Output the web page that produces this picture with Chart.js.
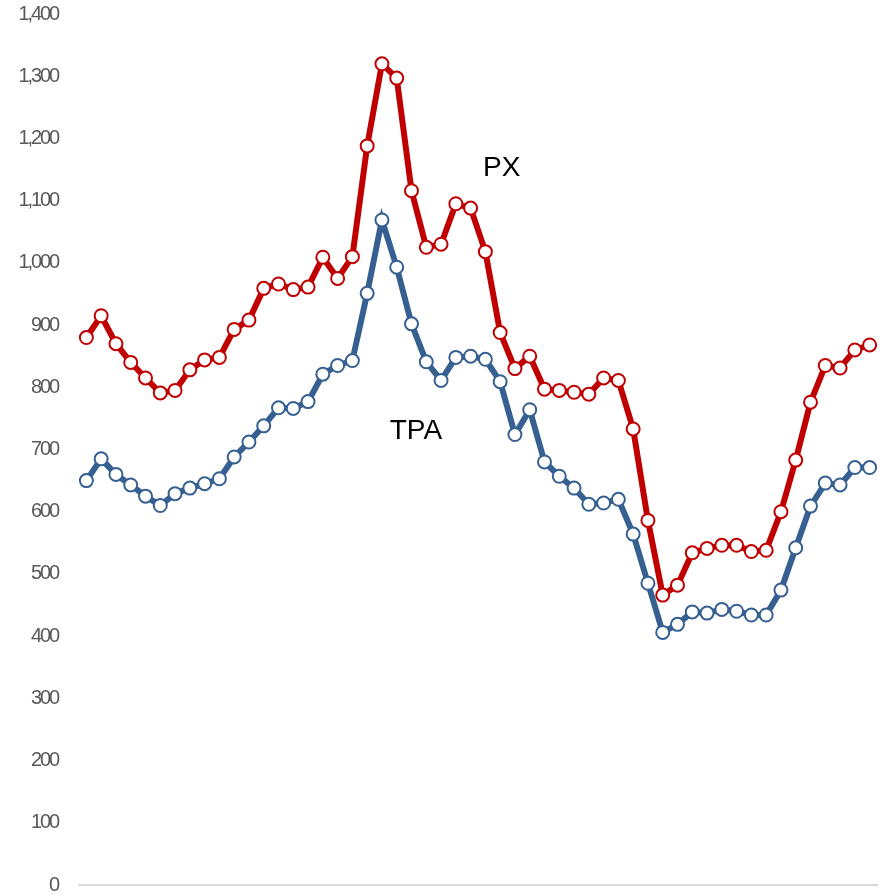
<!DOCTYPE html>
<html>
<head>
<meta charset="utf-8">
<script src="https://cdn.jsdelivr.net/npm/chart.js@4"></script>
<style>
  html, body { margin: 0; padding: 0; background: #fff; }
  #wrap { width: 888px; height: 896px; }
</style>
</head>
<body>
<div id="wrap"><canvas id="priceChart"></canvas></div>
<script>
// periods (no labels shown on the x axis)
const periods = Array.from({ length: 54 }, (_, i) => String(i + 1));

const pxValues = [
  880, 915, 870, 840, 815, 791, 795, 828, 844, 848,
  893, 908, 959, 966, 957, 961, 1009, 975, 1010, 1188,
  1320, 1297, 1116, 1025, 1030, 1095, 1088, 1018, 888, 830,
  850, 797, 795, 792, 789, 815, 811, 733, 586, 466,
  482, 534, 541, 546, 546, 536, 538, 600, 683, 776,
  835, 831, 860, 868
];

const tpaValues = [
  650, 685, 660, 643, 625, 610, 629, 638, 645, 653,
  688, 712, 738, 767, 766, 777, 821, 835, 843, 951,
  1069, 993, 902, 841, 811, 848, 850, 845, 809, 724,
  764, 680, 657, 638, 612, 614, 620, 564, 485, 406,
  419, 439, 437, 443, 440, 434, 434, 474, 542, 609,
  646, 643, 671, 671
];

const yMin = 0;
const yMax = 1400;
const yStep = 100;

// tight tick digits like the original, reset before the series labels
const tightText = {
    id: 'tightText',
    beforeDraw(chart) { chart.ctx.letterSpacing = '-2.1px'; },
    beforeDatasetsDraw(chart) { chart.ctx.letterSpacing = '0px'; }
};

// series name labels drawn inside the plot
const seriesLabels = {
    id: 'seriesLabels',
    afterDatasetsDraw(chart) {
        const { ctx, scales } = chart;
        ctx.save();
        ctx.letterSpacing = '0px';
        ctx.fillStyle = '#000';
        ctx.font = '28px "Liberation Sans", Arial, sans-serif';
        ctx.textAlign = 'center';
        ctx.textBaseline = 'middle';
        ctx.fillText('PX', scales.x.getPixelForValue(28.1), scales.y.getPixelForValue(1152));
        ctx.fillText('TPA', scales.x.getPixelForValue(22.3), scales.y.getPixelForValue(730));
        ctx.restore();
    }
};

const ctxPrice = document.getElementById('priceChart');
new Chart(ctxPrice, {
    type: 'line',
    data: {
        labels: periods,
        datasets: [{
            label: 'PX',
            data: pxValues,
            borderColor: '#c00000',
            borderWidth: 6,
            pointRadius: 6.5,
            pointBorderWidth: 2,
            pointBackgroundColor: '#fff',
            pointBorderColor: '#c00000',
            tension: 0
        }, {
            label: 'TPA',
            data: tpaValues,
            borderColor: '#376092',
            borderWidth: 6,
            pointRadius: 6.5,
            pointBorderWidth: 2,
            pointBackgroundColor: '#fff',
            pointBorderColor: '#376092',
            tension: 0
        }]
    },
    options: {
        responsive: true,
        maintainAspectRatio: false,
        animation: false,
        layout: { padding: { top: 14, right: 11, left: 0, bottom: 0 } },
        plugins: {
            legend: { display: false },
            tooltip: { enabled: false }
        },
        scales: {
            x: {
                offset: true,
                grid: { display: false },
                border: { display: true, color: '#d9d9d9', width: 2 },
                ticks: { display: false },
                afterFit(scale) { scale.height = 11; }
            },
            y: {
                min: yMin,
                max: yMax,
                grid: { display: false, drawTicks: false },
                border: { display: false },
                ticks: {
                    stepSize: yStep,
                    padding: 21,
                    color: '#595959',
                    font: { family: '"Liberation Sans", Arial, sans-serif', size: 20 },
                    callback: v => v.toLocaleString('en-US')
                },
                afterFit(scale) {
                    scale.width = 79;
                    scale.paddingTop = 0;
                    scale.paddingBottom = 0;
                }
            }
        }
    },
    plugins: [tightText, seriesLabels]
});
</script>
</body>
</html>
